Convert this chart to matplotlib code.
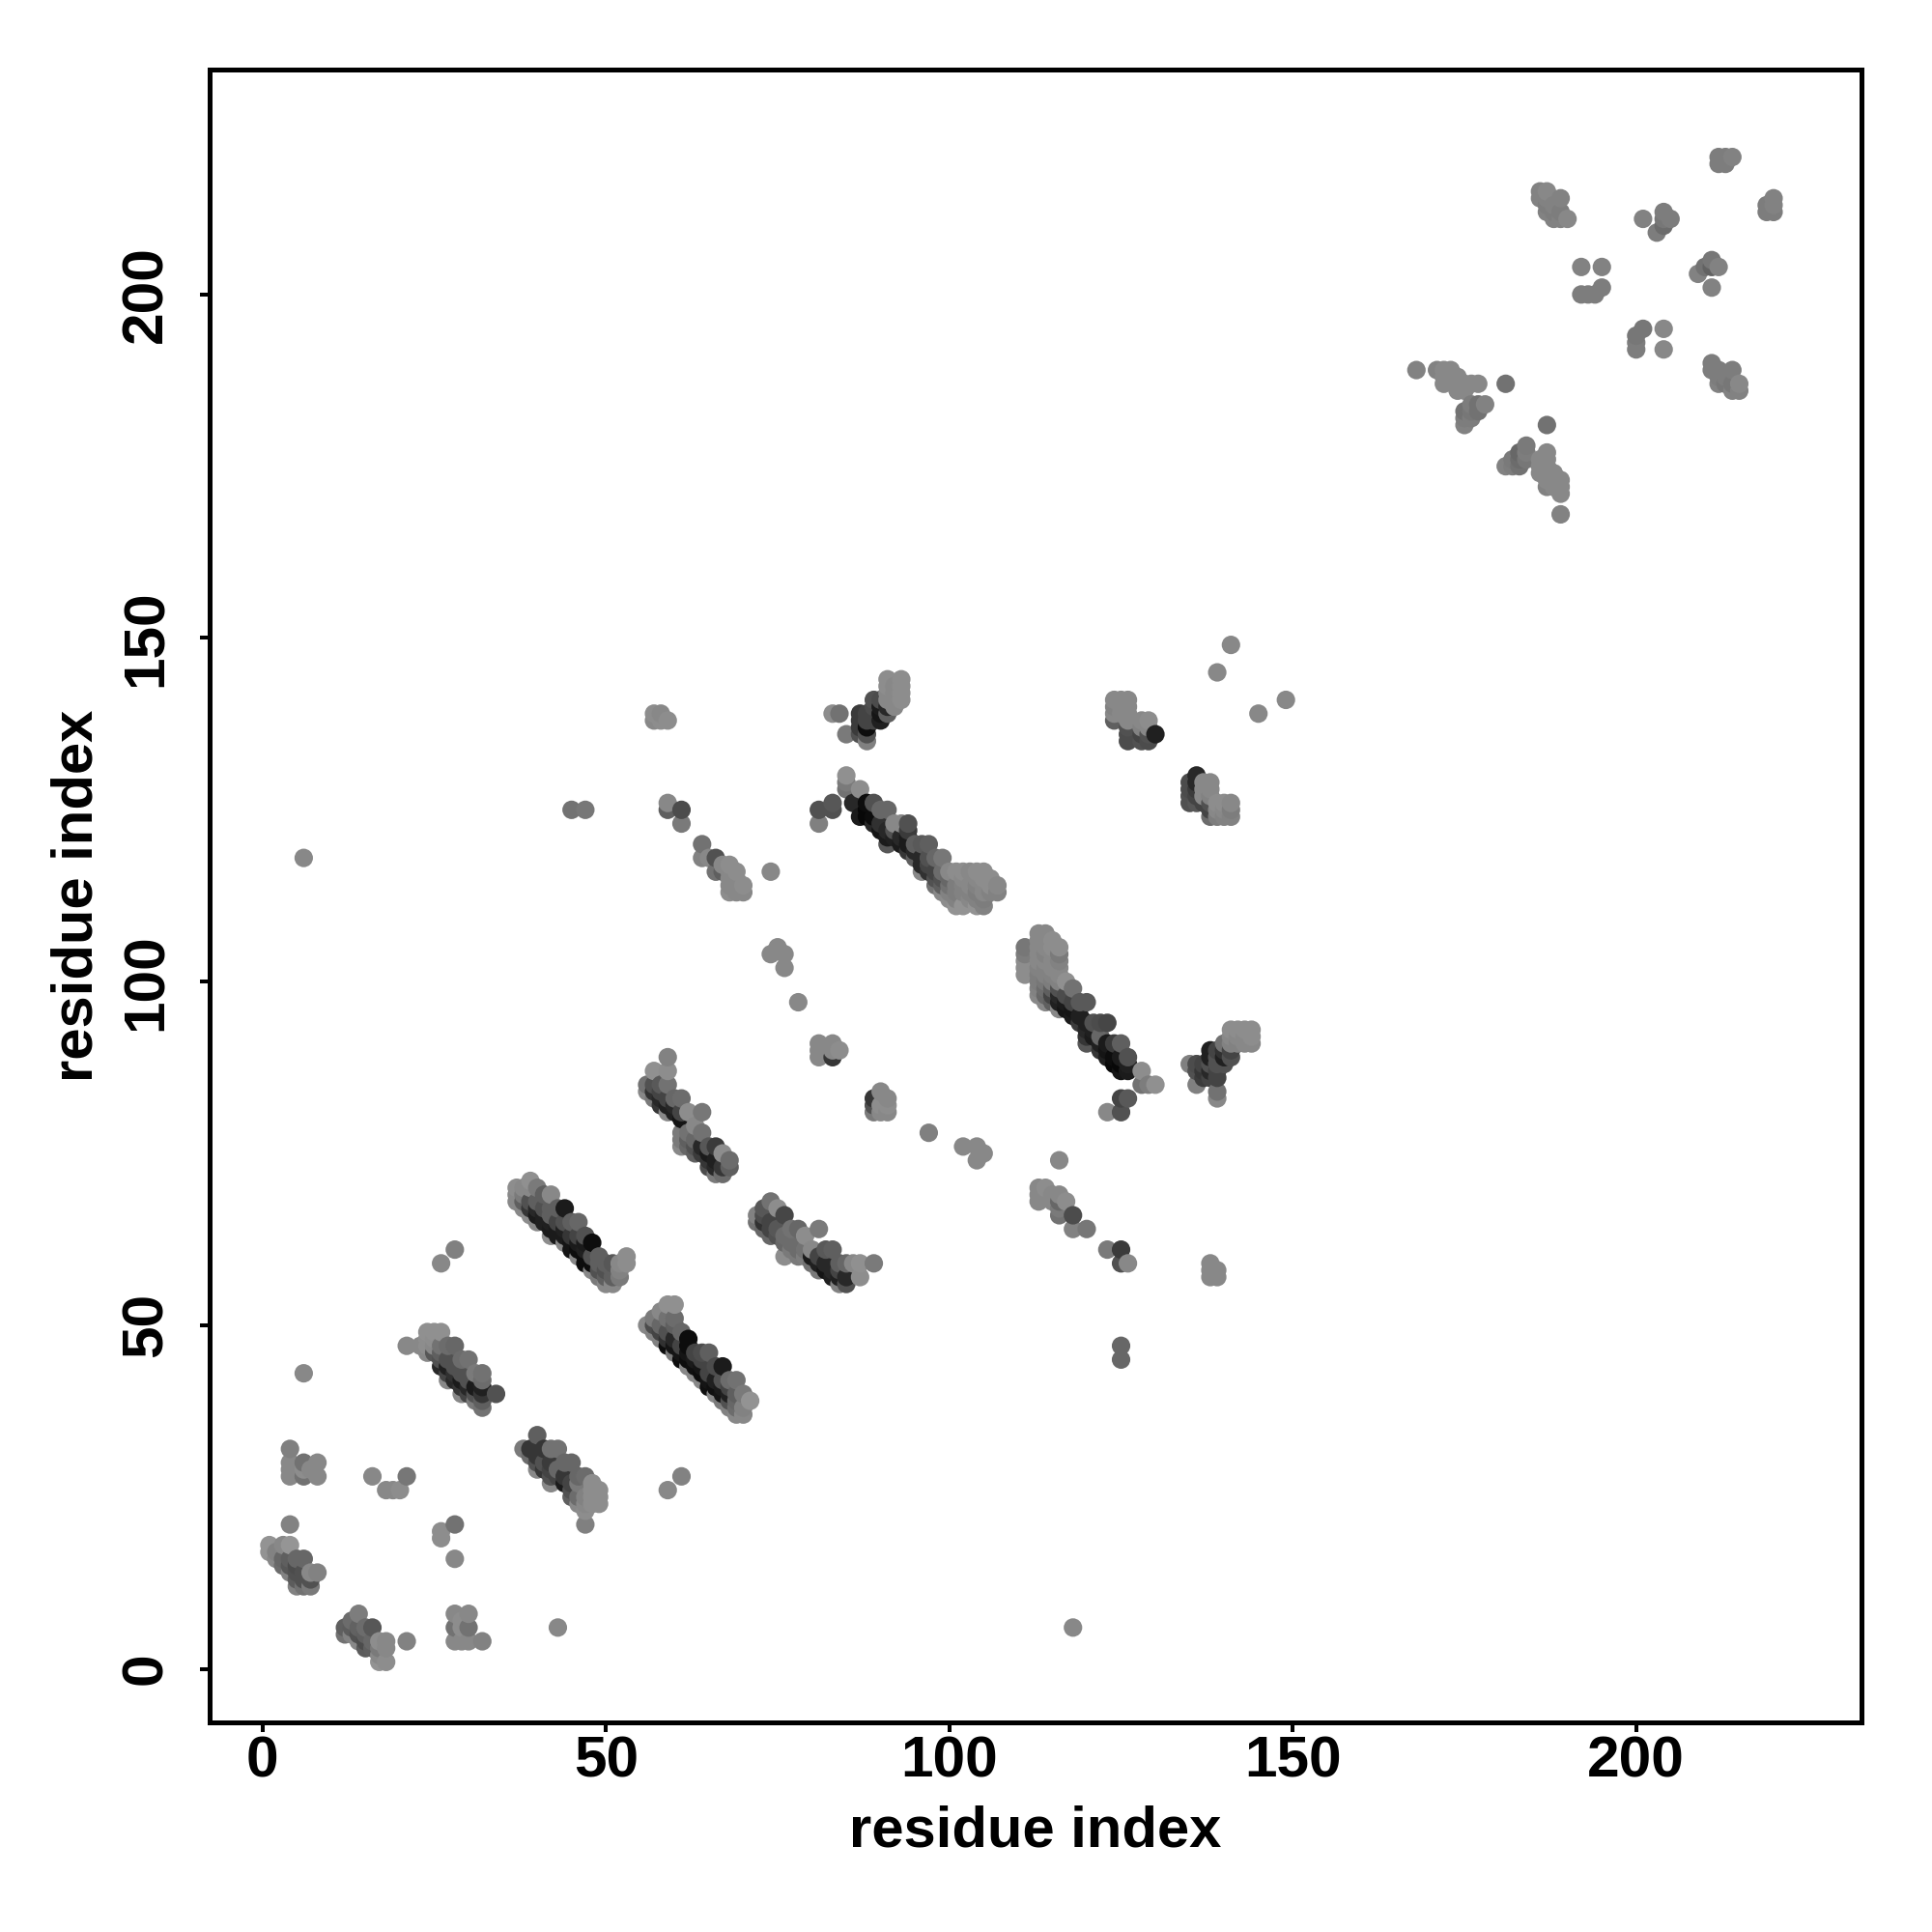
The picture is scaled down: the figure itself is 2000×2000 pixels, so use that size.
import numpy as np
import matplotlib
matplotlib.use('Agg')
import matplotlib.pyplot as plt

# contacts as (i, j, grey in percent), read cluster by cluster
corner_a = [(1,17,54),(1,18,54),(2,16,50),(2,17,48),(3,15,40),(3,16,38),(3,18,50),(4,14,48),(4,15,32),(4,16,35),
            (4,18,55),(4,21,48),(5,12,48),(5,13,34),(5,14,30),(5,15,28),(5,16,38),(6,12,42),(6,13,30),(6,14,30),
            (6,16,38),(7,12,45),(7,13,30),(7,14,50),(8,14,48)]
corner_b = [(12,5,42),(12,6,35),(13,5,48),(13,6,34),(13,7,40),(14,4,50),(14,5,30),(14,6,36),(14,8,46),(15,3,34),
            (15,4,28),(15,5,35),(15,6,40),(16,3,35),(16,4,38),(16,6,32),(17,1,54),(17,2,50),(17,3,45),(17,4,52),
            (18,1,52),(18,3,50),(18,4,50),(21,4,48)]
corner_c = [(28,8,50),(30,8,50),(28,6,42),(30,6,42),(29,6,52),(28,4,50),(29,4,50),(30,4,50),(32,4,48),(29,7,52),(43,6,50)]
corner_d = [(4,32,47),(4,30,50),(4,29,50),(4,28,50),(5,29,50),(6,30,42),(6,28,42),(6,29,52),(8,30,50),(8,28,50),(7,29,50)]
sparse_low = [(16,28,50),(21,28,44),(18,26,50),(19,26,50),(20,26,52),(28,21,42),(26,20,52),(26,19,52),(28,16,50),
              (6,43,50),(28,61,47),(26,59,50),(61,28,48),(59,26,50),(118,6,50)]

band_c = [(21,47,50),(23,47,50),(24,46,50),(24,47,52),(24,48,52),(24,49,53),(25,46,32),(25,47,50),(25,48,52),(25,49,53),
          (26,44,15),(26,45,30),(26,46,35),(26,47,42),(26,49,53),(27,42,50),(27,43,25),(27,44,12),(27,45,30),(27,47,40),
          (28,42,15),(28,43,18),(28,44,30),(28,47,38),(29,40,50),(29,41,20),(29,42,10),(29,43,30),(29,45,40),
          (30,40,25),(30,41,15),(30,42,30),(30,45,42),(31,39,45),(31,40,30),(31,41,10),(31,43,45),
          (32,38,42),(32,39,35),(32,40,20),(32,41,12),(32,42,40),(32,43,42),(34,40,30)]
band_d = [(38,32,45),(39,31,40),(39,32,20),(40,29,50),(40,30,30),(40,31,20),(40,34,35),(41,29,20),(41,30,30),(41,32,20),
          (42,27,50),(42,28,30),(42,29,25),(42,30,22),(42,32,42),(43,28,25),(43,29,38),(43,32,42),
          (44,27,10),(44,28,20),(44,30,38),(45,26,30),(45,25,35),(45,27,25),(45,30,38),
          (46,24,50),(46,25,40),(46,27,45),(46,28,38),(47,21,47),(47,23,52),(47,24,50),(47,25,48),(47,28,40),
          (48,24,52),(48,25,52),(48,26,52),(48,27,52),(49,24,52),(49,25,52),(49,26,52)]
band_a = [(37,68,50),(37,69,50),(37,70,52),(38,67,50),(38,68,35),(38,69,45),(38,70,50),
          (39,66,52),(39,67,20),(39,68,30),(39,70,50),(39,71,53),(40,65,50),(40,66,10),(40,67,15),(40,68,35),(40,70,45),
          (41,65,12),(41,66,12),(41,67,30),(41,69,35),(42,63,52),(42,64,10),(42,65,12),(42,66,35),(42,67,35),(42,69,50),
          (43,63,10),(43,64,10),(43,65,25),(43,67,35),(44,62,50),(44,63,10),(44,64,12),(44,65,30),(44,67,10),
          (45,61,8),(45,62,8),(45,63,20),(45,65,35),(46,60,50),(46,61,5),(46,62,10),(46,63,25),(46,65,38),
          (47,59,5),(47,60,5),(47,61,12),(47,62,10),(47,63,30),(48,58,50),(48,59,5),(48,60,30),(48,62,5),
          (49,57,45),(49,58,30),(49,59,35),(49,60,35),(50,56,50),(50,57,35),(50,58,30),(50,59,35),
          (51,56,50),(51,57,35),(51,58,35),(51,59,32),(52,57,45),(52,58,48),(52,59,50),(53,59,52),(53,60,52)]
band_e = [(56,50,50),(57,49,48),(57,50,28),(57,51,45),(58,48,48),(58,49,25),(58,50,38),(58,52,50),
          (59,47,5),(59,48,18),(59,49,30),(59,51,42),(59,53,53),(60,46,45),(60,47,8),(60,48,15),(60,50,35),(60,51,40),(60,53,53),
          (61,45,5),(61,46,8),(61,47,25),(61,49,38),(62,44,50),(62,45,5),(62,46,8),(62,47,5),(62,48,5),
          (63,43,50),(63,44,6),(63,45,10),(63,46,25),(64,42,50),(64,43,5),(64,44,8),(64,45,25),(64,46,28),
          (65,41,6),(65,42,8),(65,43,25),(65,46,35),(66,40,50),(66,41,6),(66,42,12),(66,44,28),
          (67,39,45),(67,40,8),(67,41,10),(67,42,30),(67,44,10),(68,38,48),(68,39,30),(68,40,12),(68,41,25),(68,42,40),
          (69,37,50),(69,38,40),(69,39,38),(69,40,35),(69,42,42),(70,37,50),(70,38,48),(70,40,45),(71,39,54)]
band_f = [(56,84,50),(56,85,42),(57,83,45),(57,84,18),(57,85,30),(57,87,53),(58,82,20),(58,83,15),(58,84,25),(58,85,33),
          (59,81,50),(59,82,12),(59,83,25),(59,85,42),(59,87,52),(59,89,48),(60,81,12),(60,82,15),(60,83,38),
          (61,76,50),(61,77,45),(61,78,45),(61,80,8),(61,81,25),(61,83,40),(62,76,38),(62,77,35),(62,78,42),(62,81,52),
          (63,75,35),(63,76,30),(63,77,38),(63,79,50),(64,75,22),(64,76,15),(64,78,42),(64,81,44),
          (65,73,28),(65,74,20),(65,75,10),(65,76,32),(66,72,45),(66,73,15),(66,74,12),(66,76,22),
          (67,72,40),(67,73,20),(67,75,52),(68,73,35),(68,74,40)]
band_g = [(72,65,42),(72,66,48),(73,64,38),(73,65,18),(73,66,28),(73,67,32),(74,63,38),(74,64,25),(74,65,25),(74,68,42),
          (75,63,30),(75,64,32),(75,67,52),(76,60,52),(76,62,38),(76,63,40),(76,66,26),(77,61,45),(77,62,40),(77,64,42),
          (78,60,45),(78,61,40),(78,64,38),(79,60,46),(79,61,42),(79,63,52),(80,59,42),(80,60,10),(80,61,50),
          (81,58,45),(81,59,12),(81,60,25),(81,64,45),(82,58,8),(82,59,15),(82,61,33),(83,57,12),(83,58,15),(83,61,35),
          (84,56,48),(84,57,12),(84,58,25),(84,59,35),(85,56,30),(85,57,15),(85,59,38),(86,59,50),(87,57,52),(87,59,53),(89,59,45)]
band_h = [(85,128,42),(85,129,45),(85,130,53),(86,126,15),(87,128,52),(87,124,10),(88,124,3),(88,125,3),(88,126,5),
          (89,123,15),(89,124,5),(89,126,30),(90,122,8),(90,123,18),(90,125,38),(91,120,32),(91,121,10),(91,122,15),(91,125,38),
          (92,121,12),(92,122,30),(92,123,50),(93,120,10),(93,121,15),(93,123,50),(94,119,20),(94,120,10),(94,121,10),(94,122,22),(94,123,30),
          (95,118,35),(95,119,15),(95,120,35),(96,116,50),(96,117,15),(96,118,15),(96,120,33),(97,116,18),(97,117,25),(97,118,30),(97,120,35),
          (98,114,42),(98,115,30),(98,116,25),(98,118,38),(99,113,50),(99,114,35),(99,115,30),(99,116,40),(99,118,44),
          (100,112,52),(100,113,48),(100,114,42),(100,115,38),(100,116,50),(101,111,54),(101,112,48),(101,113,46),(101,114,46),(101,116,52),
          (102,111,54),(102,113,48),(102,114,48),(102,115,50),(102,116,52),(103,112,50),(103,113,48),(103,114,50),(103,116,50),
          (104,111,54),(104,112,48),(104,113,46),(104,114,48),(104,115,50),(104,116,52),(105,111,48),(105,112,46),(105,113,50),(105,114,50),(105,115,52),(105,116,52),
          (106,113,48),(106,114,52),(106,115,52),(107,113,48),(107,114,50)]
band_i = [(111,101,52),(111,102,52),(111,103,52),(111,104,46),(111,105,44),
          (113,98,50),(113,99,48),(113,100,46),(113,101,46),(113,102,48),(113,103,50),(113,104,50),(113,105,50),(113,106,50),(113,107,50),
          (114,97,50),(114,98,38),(114,99,40),(114,100,44),(114,101,48),(114,102,48),(114,103,50),(114,104,48),(114,105,50),(114,106,50),(114,107,50),
          (115,97,35),(115,98,25),(115,99,35),(115,100,46),(115,101,48),(115,102,50),(115,103,50),(115,104,50),(115,105,52),(115,106,52),
          (116,96,50),(116,97,12),(116,98,15),(116,99,30),(116,100,48),(116,101,50),(116,102,50),(116,103,48),(116,104,45),(116,105,52),
          (117,96,8),(117,97,10),(117,98,28),(117,100,53),(118,95,10),(118,96,8),(118,97,25),(118,99,42),(119,94,22),(119,95,12),(119,97,33),
          (120,91,32),(120,92,20),(120,93,15),(120,94,12),(120,97,33),(121,92,10),(121,93,12),(121,94,30),(122,90,20),(122,91,12),(122,92,38),(122,94,28),
          (123,81,50),(123,89,12),(123,90,8),(123,91,10),(123,94,26),(124,88,3),(124,89,5),(124,91,22),(125,81,30),(125,83,25),(125,87,8),(125,88,3),(125,89,10),(125,91,35),
          (126,83,33),(126,87,10),(126,88,12),(126,89,30),(128,85,42),(128,87,52),(129,85,46),(130,85,53)]
cluster_j = [(135,88,47),(136,85,47),(136,87,30),(136,88,28),(137,86,22),(137,87,20),(137,88,25),(138,86,25),(138,87,15),(138,88,30),(138,89,12),(138,90,12),
             (139,83,50),(139,84,42),(139,86,25),(139,87,25),(139,88,30),(139,89,30),(139,90,25),(140,88,30),(140,89,12),(140,90,18),(140,91,42),
             (141,89,30),(141,90,25),(141,91,48),(141,92,50),(141,93,52),(142,91,48),(142,92,50),(142,93,52),(143,91,50),(143,92,50),(143,93,52),(144,91,50),(144,92,52),(144,93,52)]
sparse_mid = [(138,57,50),(138,58,50),(138,59,50),(139,57,50),(139,58,50),
              (116,74,50),(113,70,50),(114,70,52),(113,68,50),(113,69,50),(114,69,50),(115,69,50),(115,68,50),(116,69,50),(116,68,38),(116,67,45),(116,66,42),(117,68,52),
              (118,66,28),(118,64,48),(120,64,44),(123,61,45),(125,61,22),(125,59,30),(126,59,50),(125,47,38),(125,45,38),
              (97,78,47),(102,76,50),(104,76,50),(105,75,50),(104,74,50),(78,97,50),(76,102,50),(75,105,50),(74,104,50),(76,104,50),(74,116,50),
              (81,91,50),(83,91,50),(81,89,50),(83,89,20),(84,90,52),(81,90,50),(82,90,50),(83,90,50),
              (89,83,20),(90,84,50),(91,83,50),(89,81,45),(90,81,50),(91,81,50),(90,82,52),(91,82,52),(89,82,30)]
sparse_up = [(57,139,52),(58,139,50),(57,138,50),(59,138,52),(58,138,52),(59,126,50),(59,125,35),(61,125,28),(61,123,45),
             (64,120,42),(64,118,48),(65,118,50),(66,118,30),(66,116,42),(67,116,35),(67,117,50),(68,117,52),(68,116,50),(68,115,50),(68,114,50),(68,113,52),
             (69,113,50),(69,114,50),(69,115,50),(69,116,52),(70,113,50),(70,114,52),(81,125,30),(81,123,47),(83,126,32),(83,125,30),
             (45,125,42),(47,125,44),(6,118,50),(139,145,50),(141,149,50),(145,139,50),(149,141,50)]
cluster_k = [(83,139,52),(84,139,42),(85,136,45),(87,136,30),(87,137,22),(87,138,22),(87,139,22),(88,135,47),(88,136,30),(88,137,5),(88,138,25),(88,139,25),
             (89,138,25),(89,139,25),(89,140,28),(89,141,30),(90,138,12),(90,139,8),(90,140,10),(90,141,28),(91,139,35),(91,140,15),(91,141,50),(91,142,50),(91,143,52),(91,144,52),
             (92,140,50),(92,141,50),(92,142,50),(92,143,50),(93,141,52),(93,142,52),(93,143,52),(93,144,52)]
cluster_l = [(124,138,35),(124,139,50),(124,140,48),(124,141,50),(125,139,50),(125,140,50),(125,141,50),(126,135,28),(126,136,28),(126,137,30),(126,138,50),(126,139,50),(126,140,50),(126,141,50),
             (128,135,30),(128,136,25),(128,137,48),(128,138,50),(129,135,28),(129,136,30),(129,137,50),(129,138,52),(130,136,12)]
cluster_m = [(135,126,30),(135,127,30),(135,128,28),(135,129,28),(136,126,32),(136,127,25),(136,128,22),(136,129,15),(136,130,15),(137,126,25),(137,127,50),(137,128,50),(137,129,50),
             (138,124,40),(138,125,25),(138,126,30),(138,127,48),(138,128,50),(138,129,50),(139,124,46),(139,125,50),(139,126,52),(140,124,48),(140,125,50),(140,126,52),(141,124,48),(141,125,46),(141,126,50)]
far_a = [(168,189,48),(171,189,48),(172,189,50),(172,188,50),(172,187,50),(173,189,50),(173,188,50),(174,188,50),(174,187,50),(174,186,50),(175,187,50),(175,186,50),(176,187,50),(177,187,50),(181,187,42),
         (175,181,48),(175,182,46),(175,183,42),(176,182,46),(176,183,44),(176,184,46),(177,183,42),(177,184,42),(178,184,48)]
far_b = [(187,181,42),(181,175,48),(182,175,46),(182,176,45),(183,175,42),(183,176,40),(183,177,38),(184,176,44),(184,177,46),(184,178,45),(186,174,50),(186,175,50),(186,176,50),
         (187,172,48),(187,173,50),(187,174,50),(187,175,50),(187,176,50),(187,177,50),(188,172,50),(188,173,50),(188,174,50),(189,171,50),(189,172,50),(189,173,50),(189,168,48)]
far_c = [(186,214,48),(186,215,48),(187,212,48),(187,213,46),(187,214,48),(187,215,50),(188,211,48),(188,212,46),(188,213,48),(189,211,48),(189,212,46),(189,214,48),(190,211,50),
         (192,204,48),(195,204,48),(192,200,46),(193,200,46),(194,200,46),(195,201,46),
         (201,211,48),(203,209,46),(204,210,40),(204,211,44),(204,212,46),(205,211,46),
         (212,219,46),(212,220,46),(213,219,46),(213,220,46),(214,220,48),(219,212,46),(219,213,46),(220,212,46),(220,213,48),(220,214,48),
         (209,203,48),(210,204,42),(211,204,36),(211,205,44),(212,204,48),(211,201,48),
         (200,192,46),(200,193,46),(200,194,44),(201,195,44),(204,195,50),(204,192,50),
         (211,189,46),(211,190,46),(212,187,48),(212,188,46),(212,189,46),(213,187,44),(213,188,46),(214,186,48),(214,187,44),(214,189,46),(215,186,48),(215,187,50)]

clusters = [corner_a, corner_b, corner_c, corner_d, sparse_low, band_c, band_d, band_a, band_e, band_f, band_g,
            band_h, band_i, cluster_j, sparse_mid, sparse_up, cluster_k, cluster_l, cluster_m, far_a, far_b, far_c]
ticks = [0, 50, 100, 150, 200]

pts = np.array([p for c in clusters for p in c])
# plotted in residue order, later points sit on top
pts = pts[np.lexsort((pts[:, 1], pts[:, 0]))]

plt.rcParams['font.family'] = ['Liberation Sans', 'DejaVu Sans']
plt.rcParams['font.weight'] = 'bold'

fig = plt.figure(figsize=(20, 20), dpi=100)
ax = fig.add_axes([217 / 2000, 1 - 1783 / 2000, 1710 / 2000, 1711.5 / 2000])
ax.scatter(pts[:, 0], pts[:, 1], c=pts[:, 2], cmap='gray', vmin=0, vmax=94, s=190, linewidths=0)
ax.set_xlim(-7.7, 232.8)
ax.set_ylim(-7.8, 232.8)
ax.set_xticks(ticks)
ax.set_yticks(ticks)
ax.tick_params(axis='both', length=7, width=2.9, labelsize=43.5)
ax.tick_params(axis='x', pad=3)
ax.tick_params(axis='y', pad=20)
for lab in ax.get_yticklabels():
    lab.set_rotation(90)
    lab.set_verticalalignment('center')
for sp in ax.spines.values():
    sp.set_linewidth(3.6)
ax.set_xlabel('residue index', fontsize=43, fontweight='bold', labelpad=12)
ax.set_ylabel('residue index', fontsize=43, fontweight='bold', labelpad=12)

fig.savefig('out.png', dpi=100)
